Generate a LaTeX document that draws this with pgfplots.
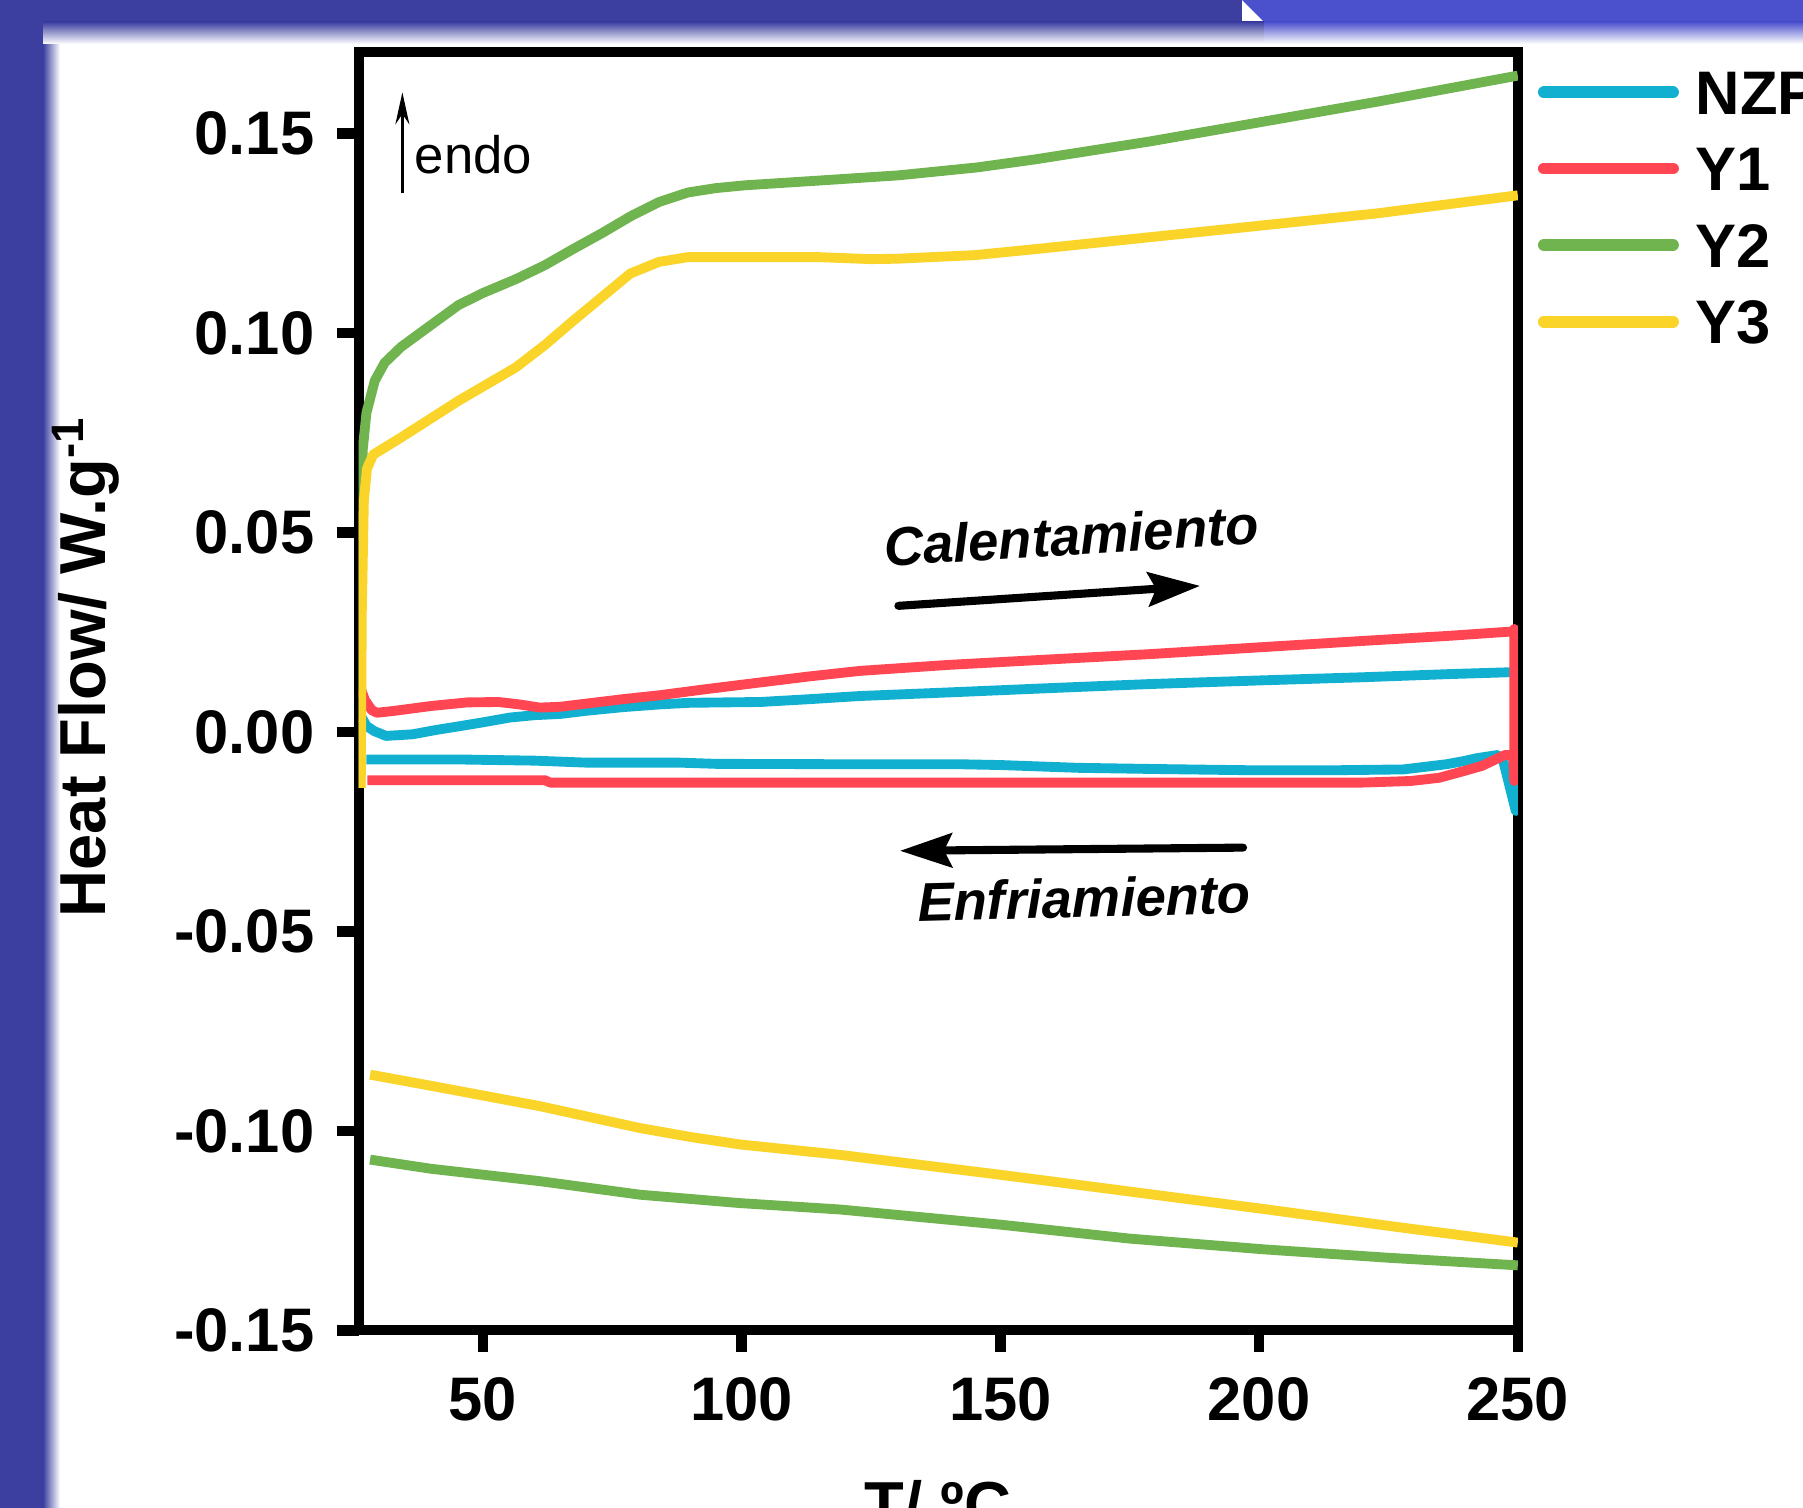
\documentclass[border=0pt]{standalone}
\usepackage{pgfplots}
\pgfplotsset{compat=1.18}
\usepackage{fontspec}
\setmainfont{Liberation Sans}
\usetikzlibrary{arrows.meta}
\definecolor{nzp}{RGB}{18,176,208}
\definecolor{yone}{RGB}{255,70,82}
\definecolor{ytwo}{RGB}{112,180,80}
\definecolor{ythree}{RGB}{250,212,40}
\definecolor{bgblue}{RGB}{60,63,160}
\definecolor{bglight}{RGB}{75,80,204}
\begin{document}
\begin{tikzpicture}
% slide background
\fill[white] (0,0) rectangle (18.03,15.08);
\fill[bgblue] (0,0) rectangle (0.43,15.08);
\shade[left color=bgblue, right color=white] (0.43,0) rectangle (0.60,14.86);
\fill[bgblue] (0,14.86) rectangle (12.42,15.08);
\fill[bglight] (12.42,15.08) -- (18.03,15.08) -- (18.03,14.86) -- (12.64,14.86) -- cycle;
\shade[top color=bgblue, bottom color=white] (0.43,14.64) rectangle (12.64,14.86);
\shade[top color=bglight, bottom color=white] (12.64,14.64) rectangle (18.03,14.86);
\fill[bgblue] (0,14.64) rectangle (0.43,15.08);
\begin{axis}[
  at={(3.587cm,1.776cm)}, anchor=south west,
  scale only axis, width=11.591cm, height=12.787cm,
  xmin=26, xmax=250, ymin=-0.15, ymax=0.1705,
  axis line style={line width=2.8pt},
  every tick/.style={black, line width=3pt},
  tick align=outside, tick pos=left,
  major tick length=0.22cm,
  xtick={50,100,150,200,250},
  ytick={-0.15,-0.1,-0.05,0,0.05,0.1,0.15},
  yticklabel style={/pgf/number format/fixed, /pgf/number format/fixed zerofill, /pgf/number format/precision=2, xshift=-0.1cm},
  xticklabel style={yshift=-0.13cm},
  /pgf/number format/assume math mode=true,
  tick label style={font=\fontsize{17.5}{20}\selectfont\bfseries},
  ylabel={Heat Flow/ W.g\textsuperscript{-1}},
  ylabel style={at={(rel axis cs:-0.2353,0.519)}, anchor=center, font=\fontsize{18.5}{22}\selectfont\bfseries},
  xlabel={T/ ºC},
  xlabel style={at={(rel axis cs:0.5,-0.117)}, anchor=north, inner sep=0pt, font=\fontsize{18.5}{22}\selectfont\bfseries},
  every axis plot/.append style={line width=2.8pt, line join=round},
  legend image code/.code={\draw[#1, line width=3.4pt, line cap=round] (0.06cm,0.035cm) -- (1.35cm,0.035cm);},
  legend style={at={(rel axis cs:1.0174,0.9840)}, anchor=north west, draw=none, fill=none,
    inner sep=0pt, outer sep=0pt, row sep=0.285cm, column sep=0.17cm,
    font=\fontsize{17.5}{20}\selectfont\bfseries, nodes={inner sep=0pt, outer sep=0pt}},
  legend cell align=left,
]
% NZP
\addplot[nzp] coordinates {
(26.6,0.0036) (27.5,0.0015) (29,0.0002) (31.3,-0.0010) (36.4,-0.0006) (41,0.0005) (45.8,0.0015) (50,0.0024)
(55.2,0.0036) (60,0.0042) (64.9,0.0045) (70,0.0053) (77,0.0062) (84.2,0.0069) (90,0.0073) (103.6,0.0075)
(113,0.0082) (122.9,0.0090) (140,0.0099) (160,0.0110) (178.9,0.0120) (200,0.0129) (220,0.0137) (236.9,0.0145)
(249.5,0.0150) (249.6,-0.0198) (247.2,-0.0073) (246,-0.0058) (242,-0.0066) (239.6,-0.0073) (236.2,-0.0081)
(227.9,-0.0094) (215,-0.0096) (198,-0.0096) (180,-0.0093) (165,-0.0090) (150,-0.0083) (142,-0.0081)
(120,-0.0081) (95,-0.0080) (88,-0.0077) (70,-0.0077) (60,-0.0072) (45,-0.0069) (27.5,-0.0069)
};
\addlegendentry{NZP}
% Y1
\addplot[yone] coordinates {
(26.5,0.0105) (27.2,0.0080) (28.5,0.0055) (29.5,0.0048) (33,0.0053) (40,0.0065) (47,0.0074) (53,0.0075)
(57,0.0069) (61,0.0061) (64.9,0.0063) (70,0.0071) (77,0.0082) (84.2,0.0092) (93,0.0107) (103.6,0.0124)
(113,0.0139) (122.9,0.0153) (140,0.0168) (160,0.0182) (178.9,0.0195) (200,0.0212) (220,0.0228) (236.9,0.0241)
(249.2,0.0252) (249.3,0.0258) (249.3,-0.0123) (249.1,-0.0058) (247.5,-0.0058) (246.5,-0.0064) (243.1,-0.0085)
(239.6,-0.0098) (234.8,-0.0115) (229.3,-0.0123) (220,-0.0127) (150,-0.0127) (63,-0.0127) (62,-0.0121) (27.7,-0.0121)
};
\addlegendentry{Y1}
% Y2 heating
\addplot[ytwo] coordinates {
(26.3,-0.014) (26.4,0.058) (26.8,0.071) (27.5,0.080) (29.1,0.088) (31,0.0925) (34.2,0.0965) (40,0.1020)
(45.3,0.1070) (50,0.1100) (56.4,0.1135) (62,0.1170) (67.4,0.1210) (73,0.1250) (78.5,0.1292) (84,0.1328)
(89.6,0.1352) (95,0.1363) (100.6,0.1370) (115,0.1382) (130.3,0.1395) (145.6,0.1415) (156.7,0.1435)
(178.9,0.1480) (201,0.1530) (223,0.1580) (250,0.1645)
};
\addlegendentry{Y2}
% Y3 heating
\addplot[ythree] coordinates {
(26.4,-0.014) (26.6,0.030) (27.0,0.058) (27.6,0.066) (28.8,0.0695) (34.2,0.0738) (45.3,0.0830) (56.4,0.0914)
(62,0.0970) (67.4,0.1030) (73,0.1090) (78.5,0.1149) (84,0.1178) (89.6,0.1190) (100.6,0.1190) (115,0.1190)
(125,0.1185) (130,0.1186) (145,0.1195) (156.7,0.1210) (178.9,0.1240) (201,0.1270) (223,0.1300) (250,0.1345)
};
\addlegendentry{Y3}
% Y2 cooling
\addplot[ytwo, forget plot] coordinates {
(28.2,-0.1072) (40,-0.1095) (61,-0.1126) (80.4,-0.1160) (99.7,-0.1181) (119,-0.1197) (150,-0.1235)
(175,-0.1270) (201,-0.1297) (225,-0.1318) (250,-0.1337)
};
% Y3 cooling
\addplot[ythree, forget plot] coordinates {
(28.2,-0.0859) (40,-0.0887) (61,-0.0938) (80.4,-0.0993) (90,-0.1015) (99.7,-0.1034) (119,-0.1060)
(150,-0.1110) (175,-0.1152) (201,-0.1196) (225,-0.1238) (250,-0.1280)
};
% annotations
\draw[line width=0.9pt, -{Stealth[length=0.32cm,width=0.14cm]}] (axis cs:34.44,0.135) -- (axis cs:34.44,0.1603);
\node[anchor=base west, inner sep=0pt, font=\fontsize{15}{18}\selectfont] at (axis cs:36.7,0.140) {endo};
\node[rotate=3.4, inner sep=0pt, font=\fontsize{15.5}{18}\selectfont\bfseries\itshape] at (axis cs:163.7,0.0492) {Calentamiento};
\draw[line width=2.3pt, line cap=round, -{Stealth[length=0.52cm,width=0.34cm,inset=0.08cm]}] (axis cs:130.3,0.0316) -- (axis cs:188.6,0.0366);
\draw[line width=2.3pt, line cap=round, -{Stealth[length=0.52cm,width=0.34cm,inset=0.08cm]}] (axis cs:196.9,-0.0290) -- (axis cs:130.6,-0.0298);
\node[rotate=1.5, inner sep=0pt, font=\fontsize{15.5}{18}\selectfont\bfseries\itshape] at (axis cs:166.2,-0.0416) {Enfriamiento};
\end{axis}
\pgfresetboundingbox
\path[use as bounding box] (0,0) rectangle (18.03,15.08);
\end{tikzpicture}
\end{document}
